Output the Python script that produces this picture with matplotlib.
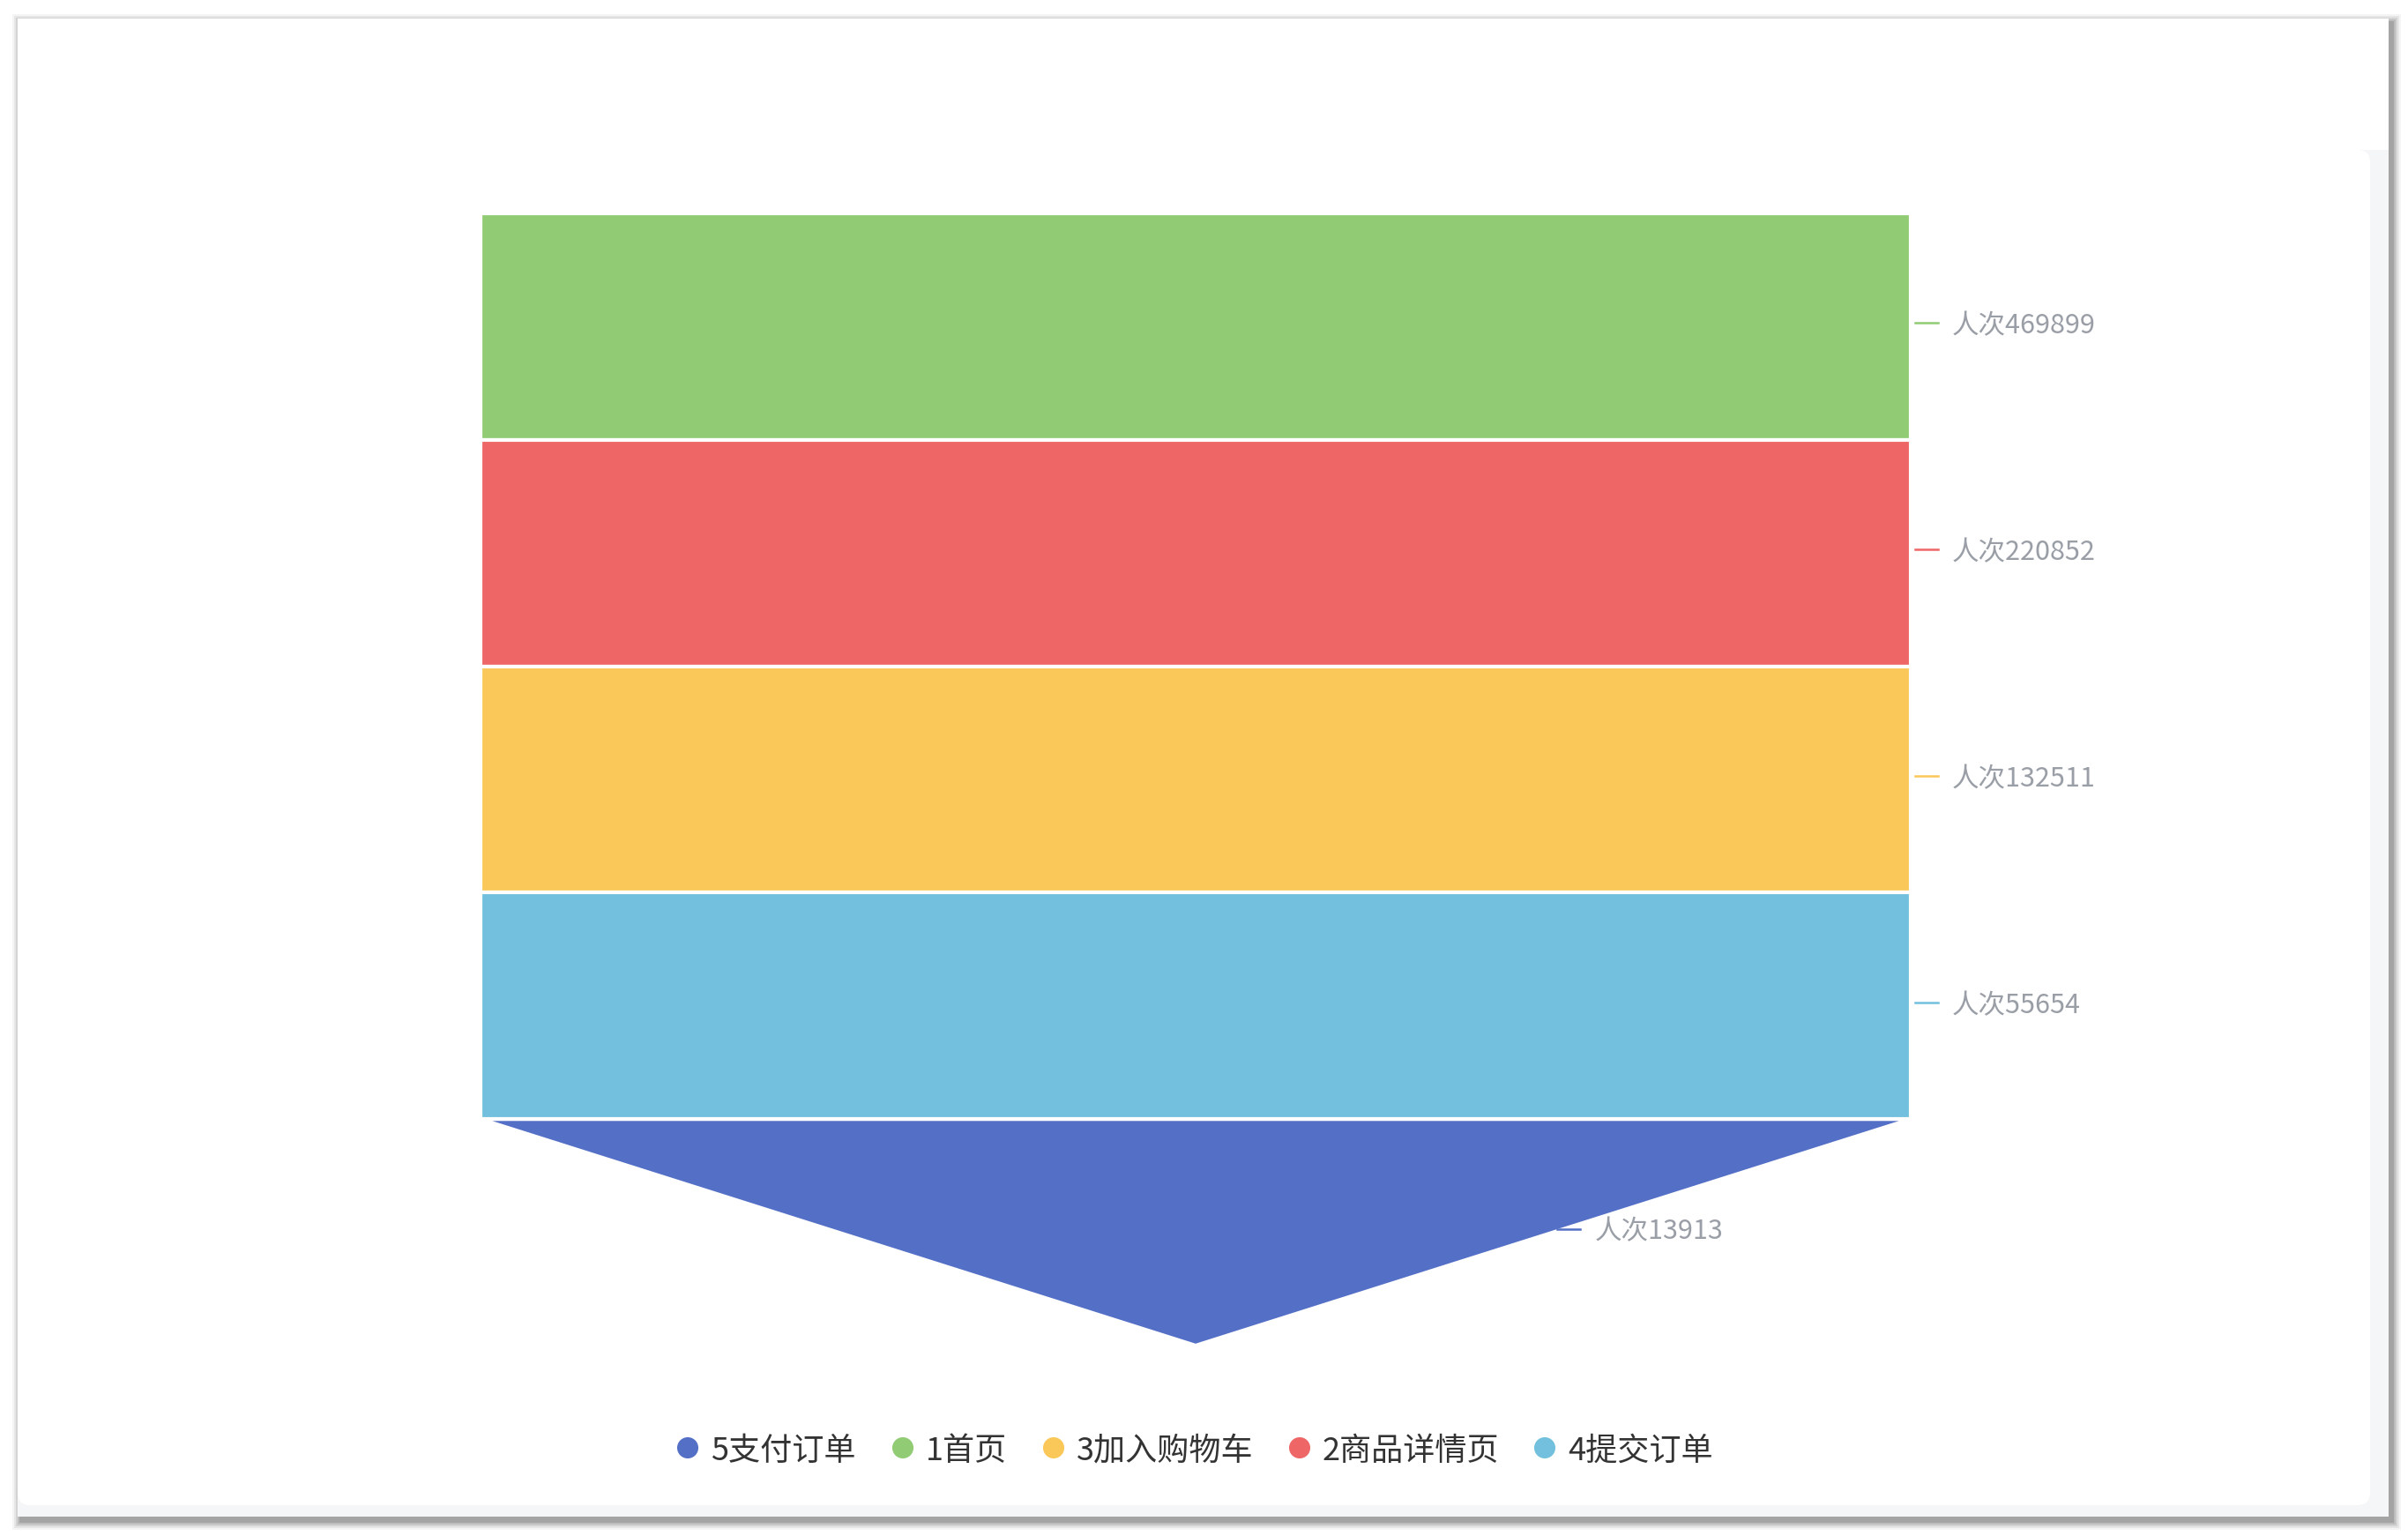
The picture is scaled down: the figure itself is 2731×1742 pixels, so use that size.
import numpy as np
import matplotlib.pyplot as plt
from matplotlib.patches import Polygon, Rectangle, FancyBboxPatch

plt.rcParams['font.family'] = ['Noto Sans CJK SC', 'DejaVu Sans']

# series data, in the order it is given (legend order / colour order)
names = ['5支付订单', '1首页', '3加入购物车', '2商品详情页', '4提交订单']
values = [13913, 469899, 132511, 220852, 55654]
colors = ['#5470c6', '#91cc75', '#fac858', '#ee6666', '#73c0de']
label_prefix = '人次'
funnel_min, funnel_max = 0, 100  # echarts defaults, values above max are clamped

# canvas in pixels
W, H = 2731, 1742
fig = plt.figure(figsize=(W / 100, H / 100), dpi=100)
ax = fig.add_axes([0, 0, 1, 1])
ax.set_xlim(0, W)
ax.set_ylim(H, 0)
ax.axis('off')

# card with a soft shadow
cx0, cy0, cx1, cy1 = 20, 21, 2709, 1720
for i, a in enumerate([0.04, 0.06, 0.08, 0.10, 0.13]):
    pad = 10 - 2 * i
    ax.add_patch(Rectangle((cx0 - pad + 4, cy0 - pad + 5), cx1 - cx0 + 2 * pad, cy1 - cy0 + 2 * pad,
                           facecolor='black', alpha=a, edgecolor='none', zorder=0))
ax.add_patch(Rectangle((cx0, cy0), cx1 - cx0, cy1 - cy0, facecolor='#f5f6f8', edgecolor='none', zorder=1))
ax.add_patch(FancyBboxPatch((cx0, 170), 2688 - cx0, 1707 - 170, boxstyle='round,pad=0,rounding_size=14',
                            facecolor='white', edgecolor='none', zorder=1))
ax.add_patch(Rectangle((cx0, cy0), cx1 - cx0, 170 - cy0, facecolor='white', edgecolor='none', zorder=1))
ax.add_patch(Rectangle((cx0, 170), 40, 1707 - 170 - 14, facecolor='white', edgecolor='none', zorder=1))

# funnel, sorted descending
left, right, top, bottom = 545, 2167, 242, 1526
full_w = right - left
xc = (left + right) / 2
order = np.argsort(values)[::-1]
n = len(values)
step = (bottom - top) / n
widths = [np.interp(values[i], [funnel_min, funnel_max], [0, full_w]) for i in order] + [0]

for k, i in enumerate(order):
    y0 = top + k * step
    y1 = y0 + step
    w0, w1 = widths[k], widths[k + 1]
    ax.add_patch(Polygon([(xc - w0 / 2, y0), (xc + w0 / 2, y0), (xc + w1 / 2, y1), (xc - w1 / 2, y1)],
                         closed=True, facecolor=colors[i], edgecolor='white', linewidth=3, zorder=3))
    ym = (y0 + y1) / 2 - 4
    xe = xc + (w0 + w1) / 4
    ax.plot([xe + 5, xe + 31], [ym, ym], color=colors[i], lw=1.8, zorder=4)
    ax.text(xe + 47, ym, f'{label_prefix}{values[i]}', fontsize=22, color='#9a9ea6',
            va='center_baseline', ha='left', zorder=5)

# legend
leg_y = 1642
leg_x = [780, 1024, 1195, 1474, 1752]
for i, name in enumerate(names):
    ax.scatter([leg_x[i]], [leg_y], s=300, color=colors[i], edgecolors='none', zorder=5)
    ax.text(leg_x[i] + 26, leg_y, name, fontsize=26, color='#333333',
            va='center_baseline', ha='left', zorder=5)

fig.savefig('out.png', dpi=100)
